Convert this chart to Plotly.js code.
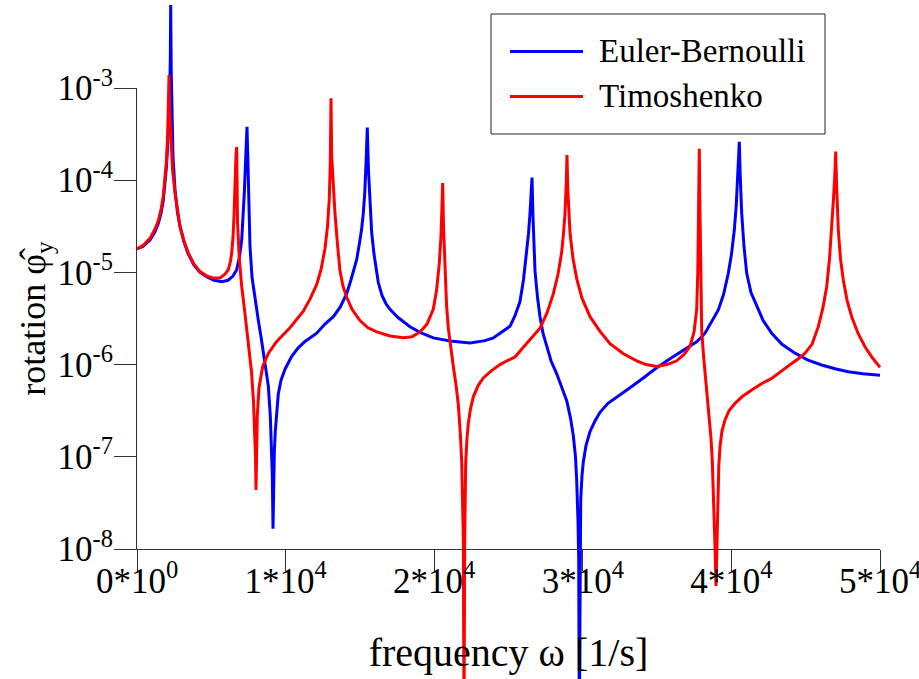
<!DOCTYPE html>
<html>
<head>
<meta charset="utf-8">
<script src="https://cdn.plot.ly/plotly-3.0.1.min.js"></script>
<style>html,body{margin:0;padding:0;background:#fff}#chart{width:919px;height:679px}</style>
</head>
<body>
<div id="chart"></div>
<script>
// Euler-Bernoulli: frequency omega [1/s] and rotation
const ebFreq = [0,400,875,1211,1433,1615,1770,1884,1985,2086,2187,2241,2268,2302,2355,2423,2557,2725,2894,3163,3452,3836,4240,4711,5182,5700,6124,6460,6709,6898,7046,7147,7221,7288,7349,7402,7456,7537,7604,7739,7874,8042,8163,8345,8499,8681,8836,8970,9051,9105,9152,9199,9240,9307,9401,9509,9690,9960,10411,10835,11306,12093,12651,13210,13661,14112,14401,14603,14785,14973,15108,15229,15330,15411,15498,15579,15666,15794,15949,16084,16238,16487,16756,17026,17564,18372,19044,19940,21063,22409,23419,23977,24563,25101,25438,25774,26009,26225,26346,26447,26528,26582,26649,26783,26952,27120,27322,27571,27860,28244,28567,28917,29173,29361,29509,29590,29677,29724,29765,29812,29859,29946,30034,30215,30485,30821,31158,31696,32281,33176,34071,34926,35868,37214,37685,38224,38695,39119,39469,39792,40007,40196,40323,40424,40485,40532,40593,40694,40848,41030,41319,41703,42127,42712,43405,44280,45155,46077,46972,47867,48856,50000];
const ebRot = [1.80e-5,1.91e-5,2.24e-5,2.75e-5,3.39e-5,4.37e-5,6.03e-5,8.91e-5,1.41e-4,2.82e-4,7.08e-4,2.0e-3,7.94e-3,1.58e-3,3.98e-4,1.78e-4,7.94e-5,4.47e-5,3.16e-5,2.14e-5,1.58e-5,1.20e-5,1.0e-5,8.91e-6,8.22e-6,7.94e-6,8.22e-6,9.12e-6,1.07e-5,1.48e-5,2.24e-5,3.98e-5,7.24e-5,1.35e-4,2.40e-4,3.80e-4,1.78e-4,7.08e-5,1.91e-5,8.91e-6,6.03e-6,3.98e-6,3.02e-6,2.0e-6,1.35e-6,8.51e-7,5.89e-7,2.82e-7,1.41e-7,6.31e-8,1.66e-8,6.31e-8,1.12e-7,1.91e-7,3.16e-7,4.79e-7,6.76e-7,8.91e-7,1.23e-6,1.51e-6,1.78e-6,2.19e-6,2.75e-6,3.31e-6,4.17e-6,5.89e-6,8.32e-6,1.07e-5,1.38e-5,2.09e-5,2.88e-5,4.37e-5,7.41e-5,1.51e-4,3.72e-4,1.26e-4,5.62e-5,2.69e-5,1.58e-5,1.07e-5,7.76e-6,5.62e-6,4.57e-6,3.98e-6,3.24e-6,2.57e-6,2.24e-6,1.95e-6,1.80e-6,1.72e-6,1.82e-6,1.95e-6,2.24e-6,2.60e-6,3.39e-6,4.83e-6,8.32e-6,1.66e-5,2.63e-5,4.37e-5,7.08e-5,1.07e-4,3.98e-5,1.035e-5,5.37e-6,3.31e-6,2.19e-6,1.54e-6,1.10e-6,7.94e-7,5.75e-7,4.07e-7,2.63e-7,1.70e-7,1.0e-7,5.50e-8,2.0e-8,8.13e-9,1.26e-10,1.0e-8,3.39e-8,6.31e-8,8.79e-8,1.32e-7,1.88e-7,2.45e-7,3.04e-7,3.80e-7,4.47e-7,5.62e-7,7.16e-7,9.12e-7,1.16e-6,1.58e-6,1.78e-6,2.19e-6,2.95e-6,3.91e-6,5.75e-6,9.77e-6,1.58e-5,2.88e-5,5.25e-5,1.0e-4,1.58e-4,2.61e-4,1.12e-4,4.37e-5,1.91e-5,9.77e-6,6.03e-6,4.25e-6,3.02e-6,2.19e-6,1.66e-6,1.33e-6,1.12e-6,9.91e-7,9.02e-7,8.38e-7,7.94e-7,7.67e-7];

// Timoshenko: frequency omega [1/s] and rotation
const tmFreq = [0,404,875,1211,1433,1615,1770,1884,1985,2066,2120,2154,2194,2268,2389,2557,2725,2894,3163,3452,3836,4240,4711,5135,5586,5922,6144,6292,6373,6461,6528,6582,6615,6663,6709,6763,6884,7046,7268,7490,7706,7840,7928,7975,8009,8042,8096,8210,8459,8836,9401,10296,11191,11642,12093,12383,12651,12820,12941,13009,13056,13103,13191,13325,13494,13661,13863,14112,14469,15007,15545,16131,17026,17921,18506,19044,19516,19940,20155,20344,20459,20526,20573,20627,20728,20829,20950,21112,21287,21469,21623,21758,21852,21960,22005,22052,22120,22207,22295,22443,22631,22948,23305,23822,24428,24899,25438,25996,26514,27120,27591,28015,28331,28580,28701,28802,28883,28937,28990,29139,29341,29590,29946,30485,31158,31831,32706,33628,34254,34974,35667,36320,36811,37214,37484,37665,37739,37773,37806,37840,37874,37907,37954,38001,38123,38338,38493,38627,38715,38782,38849,38897,38964,39018,39078,39152,39233,39368,39570,39839,40243,40781,41367,41992,42712,43338,44058,44550,44953,45424,45848,46164,46413,46602,46750,46871,46958,47019,47079,47194,47342,47530,47779,48095,48519,48990,49461,50000];
const tmRot = [1.80e-5,1.95e-5,2.34e-5,2.95e-5,3.63e-5,4.79e-5,6.76e-5,1.0e-4,1.66e-4,3.24e-4,7.08e-4,1.38e-3,5.62e-4,2.75e-4,1.32e-4,7.24e-5,4.47e-5,3.16e-5,2.19e-5,1.62e-5,1.23e-5,1.02e-5,9.12e-6,8.71e-6,8.71e-6,9.55e-6,1.07e-5,1.32e-5,1.62e-5,2.40e-5,4.07e-5,7.94e-5,1.41e-4,1.91e-4,2.29e-4,3.55e-5,1.41e-5,7.08e-6,3.55e-6,1.78e-6,8.32e-7,3.98e-7,1.78e-7,1.0e-7,4.37e-8,1.0e-7,2.82e-7,5.62e-7,9.55e-7,1.32e-6,1.78e-6,2.51e-6,3.80e-6,5.13e-6,7.41e-6,1.07e-5,1.82e-5,3.16e-5,6.31e-5,1.58e-4,7.76e-4,1.78e-4,8.91e-5,4.34e-5,2.0e-5,1.035e-5,7.08e-6,5.37e-6,3.98e-6,3.00e-6,2.51e-6,2.26e-6,2.04e-6,1.95e-6,2.0e-6,2.26e-6,2.75e-6,4.01e-6,6.31e-6,1.26e-5,2.51e-5,5.01e-5,9.33e-5,3.16e-5,1.035e-5,4.47e-6,2.48e-6,1.48e-6,9.55e-7,6.03e-7,3.67e-7,1.78e-7,8.79e-8,1.32e-8,1.26e-10,1.26e-8,8.79e-8,1.58e-7,2.29e-7,3.31e-7,4.47e-7,5.89e-7,7.16e-7,8.51e-7,1.0e-6,1.10e-6,1.21e-6,1.54e-6,1.91e-6,2.48e-6,3.63e-6,5.85e-6,9.55e-6,1.67e-5,2.63e-5,4.34e-5,8.91e-5,1.87e-4,7.94e-5,2.69e-5,1.41e-5,8.57e-6,5.25e-6,3.31e-6,2.29e-6,1.69e-6,1.32e-6,1.10e-6,1.0e-6,9.55e-7,1.0e-6,1.10e-6,1.29e-6,1.58e-6,2.24e-6,3.98e-6,1.0e-5,2.69e-5,7.94e-5,2.19e-4,6.31e-5,1.58e-5,5.01e-6,2.37e-6,1.26e-6,5.37e-7,2.82e-7,1.58e-7,8.91e-8,4.47e-8,2.0e-8,1.06e-8,3.98e-9,1.26e-8,3.72e-8,7.94e-8,1.29e-7,1.91e-7,2.51e-7,3.16e-7,3.80e-7,4.57e-7,5.30e-7,6.17e-7,7.08e-7,8.51e-7,1.03e-6,1.17e-6,1.33e-6,1.66e-6,2.58e-6,4.17e-6,7.00e-6,1.41e-5,2.88e-5,6.31e-5,1.12e-4,2.04e-4,8.91e-5,2.88e-5,1.41e-5,8.26e-6,5.01e-6,3.31e-6,2.19e-6,1.56e-6,1.20e-6,9.33e-7];

const xTickVals = [0,10000,20000,30000,40000,50000];
const xTickText = ['0*10<sup>0</sup>','1*10<sup>4</sup>','2*10<sup>4</sup>','3*10<sup>4</sup>','4*10<sup>4</sup>','5*10<sup>4</sup>'];
const yTickVals = [1e-8,1e-7,1e-6,1e-5,1e-4,1e-3];
const yTickText = ['10<sup>-8</sup>','10<sup>-7</sup>','10<sup>-6</sup>','10<sup>-5</sup>','10<sup>-4</sup>','10<sup>-3</sup>'];
const seriesNames = ['Euler-Bernoulli','Timoshenko'];
const seriesColors = ['#0000ff','#ff0000'];

const W = 919, H = 679;
// plot frame in pixels
const L = 137, R = 880, T = 88, B = 549;
const pxPerX = (R - L) / 50000;
const pxPerDec = (B - T) / 5;
const serif = '"Liberation Serif", "Times New Roman", Times, serif';

const traces = [
  {x: ebFreq, y: ebRot, name: seriesNames[0], mode: 'lines', line: {color: seriesColors[0], width: 3}, xaxis: 'x', yaxis: 'y'},
  {x: tmFreq, y: tmRot, name: seriesNames[1], mode: 'lines', line: {color: seriesColors[1], width: 3}, xaxis: 'x', yaxis: 'y'},
  {x: [], y: [], xaxis: 'x2', yaxis: 'y2', showlegend: false, hoverinfo: 'skip'}
];

const px = v => v / W, py = v => 1 - v / H;

const layout = {
  width: W, height: H,
  margin: {l: 0, r: 0, t: 0, b: 0, pad: 0},
  paper_bgcolor: '#fff', plot_bgcolor: 'rgba(0,0,0,0)',
  showlegend: false,
  font: {family: serif, color: '#000'},
  // full-figure data axes (hidden) so curves can overshoot the frame as in the original
  xaxis: {domain: [0, 1], range: [-L / pxPerX, (W - L) / pxPerX], visible: false, fixedrange: true},
  yaxis: {domain: [0, 1], type: 'log', range: [-8 - (H - B) / pxPerDec, -8 + B / pxPerDec], visible: false, fixedrange: true},
  // visible frame axes
  xaxis2: {
    domain: [px(L), px(R)], range: [0, 50000], anchor: 'y2',
    showline: true, linecolor: '#333', linewidth: 1, mirror: false,
    ticks: 'outside', ticklen: 21, tickcolor: '#333', tickwidth: 1,
    tickvals: xTickVals, ticktext: xTickText, ticklabeloverflow: 'allow', ticklabelstandoff: -20,
    tickfont: {family: serif, size: 35, color: '#000'},
    showgrid: false, zeroline: false, fixedrange: true,
    title: {text: 'frequency ω [1/s]', font: {family: serif, size: 40, color: '#000'}, standoff: 37}
  },
  yaxis2: {
    domain: [py(B), py(T)], type: 'log', range: [-8, -3], anchor: 'x2',
    showline: true, linecolor: '#333', linewidth: 1, mirror: false,
    ticks: 'outside', ticklen: 22, tickcolor: '#333', tickwidth: 1,
    tickvals: yTickVals, ticktext: yTickText, ticklabelstandoff: -6,
    tickfont: {family: serif, size: 35, color: '#000'},
    showgrid: false, zeroline: false, fixedrange: true,
    title: {text: 'rotation φ̂<sub>y</sub>', font: {family: serif, size: 36, color: '#000'}, standoff: 0}
  },
  shapes: [
    {type: 'rect', xref: 'paper', yref: 'paper', x0: px(491), x1: px(825), y0: py(134), y1: py(14), line: {color: '#222', width: 1}, fillcolor: '#fff', layer: 'above'},
    {type: 'line', xref: 'paper', yref: 'paper', x0: px(510), x1: px(583), y0: py(51.5), y1: py(51.5), line: {color: seriesColors[0], width: 3}, layer: 'above'},
    {type: 'line', xref: 'paper', yref: 'paper', x0: px(510), x1: px(583), y0: py(96.5), y1: py(96.5), line: {color: seriesColors[1], width: 3}, layer: 'above'}
  ],
  annotations: [
    {xref: 'paper', yref: 'paper', x: px(597), y: py(51.5), xanchor: 'left', yanchor: 'middle', text: seriesNames[0], showarrow: false, font: {family: serif, size: 33, color: '#000'}},
    {xref: 'paper', yref: 'paper', x: px(597), y: py(96.5), xanchor: 'left', yanchor: 'middle', text: seriesNames[1], showarrow: false, font: {family: serif, size: 33, color: '#000'}}
  ]
};

Plotly.newPlot('chart', traces, layout, {displayModeBar: false, staticPlot: true});
</script>
</body>
</html>
